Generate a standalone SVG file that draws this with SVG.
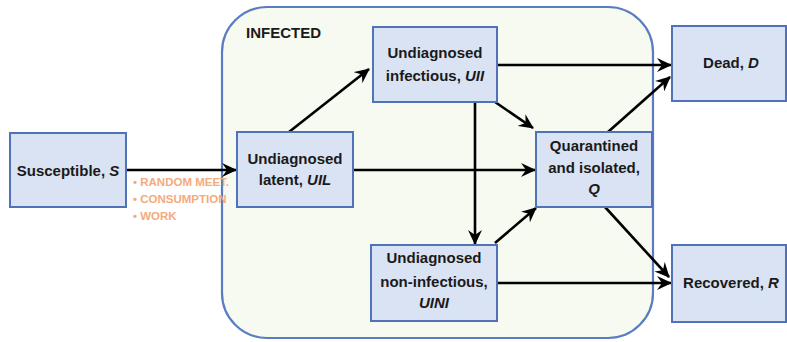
<svg xmlns="http://www.w3.org/2000/svg" width="787" height="342" viewBox="0 0 787 342">
<style>
.box{fill:#dae3f3;stroke:#4f72b8;stroke-width:2}
.lbl{font-family:"Liberation Sans",Arial,sans-serif;font-weight:bold;font-size:15px;fill:#1a1a1a;text-anchor:middle}
.it{font-style:italic}
.ln{stroke:#000;stroke-width:2.6;fill:none;marker-end:url(#ah)}
.or{font-family:"Liberation Sans",Arial,sans-serif;font-weight:bold;font-size:11.5px;fill:#f4aa7c}
</style>
<defs>
<marker id="ah" markerUnits="userSpaceOnUse" markerWidth="16" markerHeight="14" refX="14" refY="7" orient="auto">
<path d="M0,0 L15,7 L0,14 L5,7 z" fill="#000"/>
</marker>
</defs>
<g id="infected">
<rect x="222" y="7" width="431" height="331" rx="45" ry="45" fill="#f6faf1" stroke="#5a7cc0" stroke-width="2.2"/>
<text x="246" y="38" class="lbl" style="text-anchor:start">INFECTED</text>
</g>
<g id="connectors">
<line class="ln" x1="126" y1="170" x2="236" y2="170"/>
<line class="ln" x1="289" y1="132" x2="369" y2="69"/>
<line class="ln" x1="353" y1="170" x2="535" y2="170"/>
<line class="ln" x1="497" y1="65" x2="671" y2="65"/>
<line class="ln" x1="495" y1="102" x2="533" y2="128"/>
<line class="ln" x1="475" y1="102" x2="475" y2="244"/>
<line class="ln" x1="495" y1="243" x2="536" y2="208"/>
<line class="ln" x1="608" y1="132" x2="670" y2="77"/>
<line class="ln" x1="605" y1="207" x2="669" y2="277"/>
<line class="ln" x1="497" y1="283" x2="671" y2="283"/>
</g>
<g id="susceptible">
<rect class="box" x="10" y="133" width="116" height="74"/>
<text class="lbl" x="68" y="176">Susceptible, <tspan class="it">S</tspan></text>
</g>
<g id="contacts">
<text class="or" x="133" y="186">• RANDOM MEET.</text>
<text class="or" x="133" y="203">• CONSUMPTION</text>
<text class="or" x="133" y="220">• WORK</text>
</g>
<g id="uil">
<rect class="box" x="237" y="132" width="116" height="75"/>
<text class="lbl" x="295" y="164">Undiagnosed</text>
<text class="lbl" x="295" y="185">latent, <tspan class="it">UIL</tspan></text>
</g>
<g id="uii">
<rect class="box" x="373" y="27" width="124" height="75"/>
<text class="lbl" x="435" y="58">Undiagnosed</text>
<text class="lbl" x="435" y="81">infectious, <tspan class="it">UII</tspan></text>
</g>
<g id="q">
<rect class="box" x="536" y="132" width="116" height="75"/>
<text class="lbl" x="594" y="151">Quarantined</text>
<text class="lbl" x="594" y="173">and isolated,</text>
<text class="lbl it" x="594" y="194">Q</text>
</g>
<g id="uini">
<rect class="box" x="371" y="245" width="126" height="76"/>
<text class="lbl" x="434" y="263">Undiagnosed</text>
<text class="lbl" x="434" y="287">non-infectious,</text>
<text class="lbl it" x="434" y="308">UINI</text>
</g>
<g id="dead">
<rect class="box" x="672" y="26" width="114" height="75"/>
<text class="lbl" x="731" y="68">Dead, <tspan class="it">D</tspan></text>
</g>
<g id="recovered">
<rect class="box" x="672" y="245" width="114" height="77"/>
<text class="lbl" x="731" y="288">Recovered, <tspan class="it">R</tspan></text>
</g>
</svg>
